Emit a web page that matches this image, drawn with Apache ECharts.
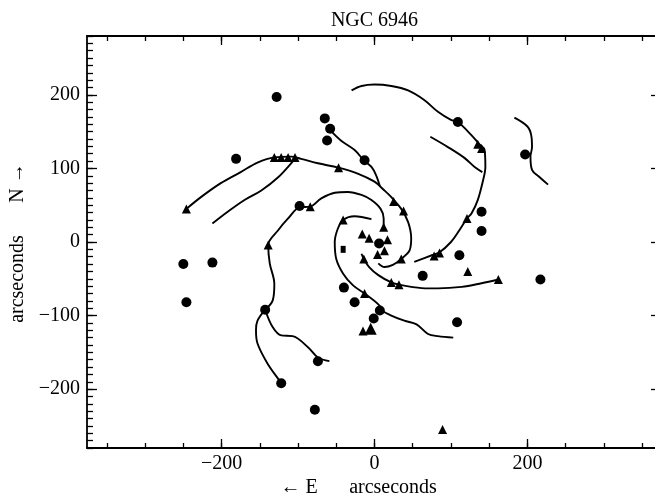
<!DOCTYPE html>
<html>
<head>
<meta charset="utf-8">
<title>NGC 6946</title>
<script src="https://cdn.jsdelivr.net/npm/echarts@6/dist/echarts.min.js"></script>
<style>
html, body { margin: 0; padding: 0; background: #fff; }
#main { width: 655px; height: 498px; }
</style>
</head>
<body>
<div id="main"></div>
<script>
// offsets in arcseconds, E to the left, N up
var circles = [
    [-128, 197], [-65, 168], [-58, 154], [-62, 138], [-181, 113], [-13, 111],
    [109, 163], [197, 119], [-98, 49], [140, 41], [140, 15], [6, -2],
    [111, -18], [63, -46], [217, -51], [-250, -30], [-212, -28], [-246, -82],
    [-40, -62], [-26, -82], [7, -93], [-1, -104], [108, -109], [-143, -92],
    [-74, -162], [-122, -192], [-78, -228]
];
var triangles = [
    [-246, 45], [-131, 115], [-122, 115], [-113, 115], [-104, 115], [-47, 101],
    [25, 55], [38, 42], [-84, 48], [-139, -4], [-41, 30], [-16, 11], [-7, 5],
    [17, 3], [12, 20], [13, -12], [4, -17], [35, -23], [-14, -23], [-13, -70],
    [22, -55], [32, -58], [-15, -121], [135, 133], [140, 127], [121, 32],
    [78, -19], [85, -15], [122, -40], [162, -51], [89, -255]
];
var bigTriangles = [[-5, -118]];
var squares = [[-41, -10]];

// spiral arm tracings
var arm1 = [[-246, 45], [-227, 61], [-201, 80], [-175, 95], [-153, 108], [-131, 115], [-109, 116],
    [-96, 113], [-74, 107], [-47, 101], [-22, 93], [0, 82], [12, 71], [22, 61], [35, 45], [44, 27],
    [48, 5], [46, -11], [35, -23], [24, -31], [13, -34], [5, -29]];
var arm2 = [[-212, 25], [-192, 41], [-170, 57], [-148, 70], [-126, 88], [-109, 107], [-103, 115]];
var arm3 = [[-58, 152], [-44, 138], [-26, 125], [-14, 111], [-4, 102], [2, 91], [7, 76]];
var arm4 = [[-30, 206], [-17, 212], [0, 214], [22, 212], [44, 206], [65, 193], [83, 177], [100, 166],
    [109, 163], [127, 145], [137, 133], [144, 125], [145, 102], [142, 84], [135, 57], [127, 39],
    [121, 32], [111, 16], [100, 0], [85, -14], [75, -18], [52, -27]];
var arm5 = [[73, 143], [96, 129], [118, 114], [131, 102], [141, 95]];
var arm6 = [[183, 169], [200, 157], [205, 145], [206, 129], [204, 116], [206, 98], [216, 88], [227, 78]];
var arm7 = [[12, 20], [12, 32], [8, 45], [-4, 57], [-17, 64], [-35, 68], [-52, 67], [-70, 59],
    [-84, 48], [-98, 47], [-113, 32], [-126, 16], [-139, -4], [-137, -29], [-131, -57], [-133, -79],
    [-143, -92]];
var arm7a = [[-143, -92], [-153, -107], [-155, -120], [-153, -138], [-140, -165], [-122, -192], [-120, -197]];
var arm7b = [[-143, -92], [-133, -116], [-122, -127], [-107, -128], [-87, -143], [-74, -157], [-59, -162]];
var arm8 = [[-4, 31], [-26, 35], [-41, 30], [-48, 18], [-52, 0], [-50, -23], [-41, -43], [-28, -59],
    [-13, -70], [7, -87], [8, -92], [22, -100], [39, -107], [55, -112], [70, -125], [83, -128], [103, -130]];
var arm9 = [[-17, -16], [-14, -23], [-7, -34], [5, -45], [22, -55], [32, -58], [48, -61], [70, -63],
    [83, -63], [114, -61], [140, -56], [162, -51]];

var arms = [arm1, arm2, arm3, arm4, arm5, arm6, arm7, arm7a, arm7b, arm8, arm9];

var xMinorTicks = [-350, -300, -250, -200, -150, -100, -50, 0, 50, 100, 150, 200, 250, 300, 350];
var xMajorTicks = [-200, 0, 200];
var yMajorTicks = [-200, -100, 0, 100, 200];

var FONT = 'Liberation Serif';

function minus(v) {
    return String(v).replace('-', '\u2212');
}

function xAx(pos, ticks, len, showLine, showLabel) {
    return {
        type: 'value', position: pos, min: -376, max: 376,
        axisLine: { show: showLine, onZero: false, lineStyle: { color: '#000', width: 1.8 } },
        axisTick: { inside: true, length: len, customValues: ticks, lineStyle: { color: '#000', width: 1.3 } },
        axisLabel: {
            show: showLabel, customValues: ticks, margin: 6, formatter: minus,
            color: '#000', fontFamily: FONT, fontSize: 20
        },
        splitLine: { show: false }
    };
}

function build() {
    var myChart = echarts.init(document.getElementById('main'));

    var series = [];
    arms.forEach(function (a) {
        series.push({
            type: 'line', data: a, symbol: 'none', smooth: 0.35, silent: true,
            lineStyle: { color: '#000', width: 1.9 }
        });
    });
    var mark = { color: '#000', opacity: 1 };
    series.push({ type: 'scatter', data: circles, symbol: 'circle', symbolSize: 10, itemStyle: mark });
    series.push({ type: 'scatter', data: triangles, symbol: 'triangle', symbolSize: 9, itemStyle: mark });
    series.push({ type: 'scatter', data: bigTriangles, symbol: 'triangle', symbolSize: 12, itemStyle: mark });
    series.push({ type: 'scatter', data: squares, symbol: 'rect', symbolSize: [5, 7], itemStyle: mark });

    var option = {
        backgroundColor: '#fff',
        animation: false,
        grid: { left: 87, right: -7, top: 36, bottom: 50, outerBoundsMode: 'none' },
        xAxis: [
            xAx('bottom', xMinorTicks, 5, true, false),
            xAx('bottom', xMajorTicks, 9, false, true),
            xAx('top', xMinorTicks, 5, true, false),
            xAx('top', xMajorTicks, 9, false, false)
        ],
        yAxis: [
            {
                type: 'value', position: 'left', min: -280, max: 280, interval: 10,
                axisLine: { show: true, onZero: false, lineStyle: { color: '#000', width: 1.8 } },
                axisTick: { inside: true, length: 6, lineStyle: { color: '#000', width: 1.3 } },
                axisLabel: { show: false },
                splitLine: { show: false }
            },
            {
                type: 'value', position: 'left', min: -280, max: 280,
                axisLine: { show: false, onZero: false },
                axisTick: { inside: true, length: 10, customValues: yMajorTicks, lineStyle: { color: '#000', width: 1.3 } },
                axisLabel: {
                    customValues: yMajorTicks, margin: 7, formatter: minus,
                    color: '#000', fontFamily: FONT, fontSize: 20
                },
                splitLine: { show: false }
            },
            {
                type: 'value', position: 'right', min: -280, max: 280,
                axisLine: { show: true, onZero: false, lineStyle: { color: '#000', width: 1.8 } },
                axisTick: { inside: true, length: 11, customValues: yMajorTicks, lineStyle: { color: '#000', width: 1.3 } },
                axisLabel: { show: false },
                splitLine: { show: false }
            }
        ],
        graphic: [
            {
                type: 'text', x: 374.5, y: 21,
                style: { text: 'NGC 6946', font: '20px "Liberation Serif"', fill: '#000', textAlign: 'center', textVerticalAlign: 'middle' }
            },
            {
                type: 'text', x: 299, y: 488,
                style: { text: '\u2190 E', font: '20px "Liberation Serif"', fill: '#000', textAlign: 'center', textVerticalAlign: 'middle' }
            },
            {
                type: 'text', x: 393, y: 488,
                style: { text: 'arcseconds', font: '20px "Liberation Serif"', fill: '#000', textAlign: 'center', textVerticalAlign: 'middle' }
            },
            {
                type: 'text', x: 18, y: 279, rotation: Math.PI / 2,
                style: { text: 'arcseconds', font: '20px "Liberation Serif"', fill: '#000', textAlign: 'center', textVerticalAlign: 'middle' }
            },
            {
                type: 'text', x: 18, y: 183, rotation: Math.PI / 2,
                style: { text: 'N \u2192', font: '20px "Liberation Serif"', fill: '#000', textAlign: 'center', textVerticalAlign: 'middle' }
            }
        ],
        series: series
    };

    myChart.setOption(option);
}

build();
</script>
</body>
</html>
